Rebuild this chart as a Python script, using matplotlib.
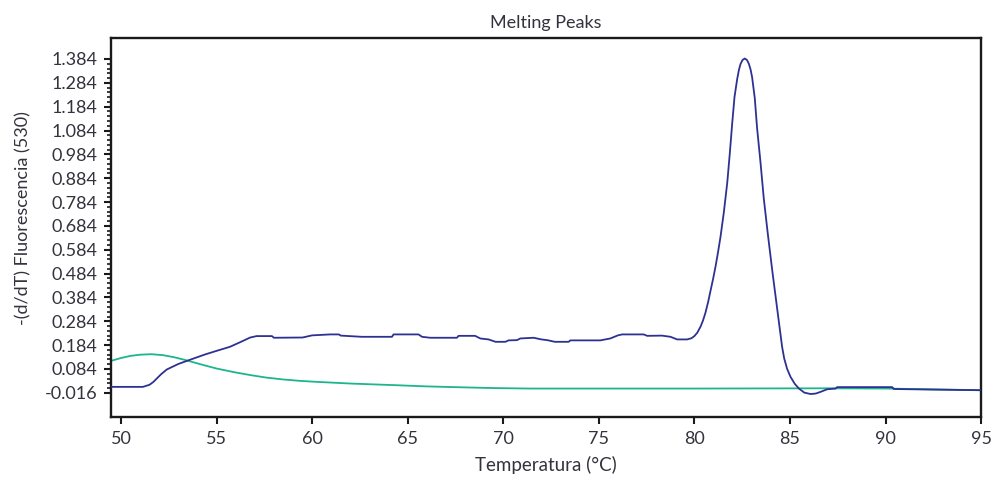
import numpy as np
import matplotlib
matplotlib.use('Agg')
import matplotlib.pyplot as plt
import matplotlib.ticker as ticker

# melting curve readings (temperature in C, -(d/dT) fluorescence)
blue_t = [49.48, 51.15, 51.5, 51.7, 52.1, 52.4, 53.0, 53.8, 54.4, 55.0, 55.7, 56.2, 56.76, 57.1,
          57.9, 58.0, 59.5, 60.0, 60.95, 61.4, 61.5, 62.6, 64.18, 64.26, 65.57, 65.75, 66.18,
          67.58, 67.66, 68.53, 68.8, 69.23, 69.6, 70.11, 70.28, 70.72, 70.89, 71.59, 72.0, 72.3,
          72.7, 73.42, 73.51, 75.08, 75.6, 76.0, 76.22, 77.35, 77.53, 78.3, 78.75, 79.1, 79.62,
          79.85, 80.0, 80.15, 80.32, 80.45, 80.58, 80.72, 80.85, 80.98, 81.11, 81.24, 81.37, 81.54,
          81.72, 81.85, 81.98, 82.10, 82.24, 82.33, 82.41, 82.52, 82.64, 82.75, 82.85, 82.94, 83.02,
          83.16, 83.28, 83.46, 83.63, 83.84, 84.07, 84.33, 84.59, 84.7, 84.85, 85.03, 85.25, 85.47,
          85.75, 86.08, 86.35, 86.6, 86.95, 87.39, 87.47, 90.35, 90.44, 95.0]
blue_v = [0.009, 0.009, 0.018, 0.030, 0.062, 0.082, 0.105, 0.128, 0.145, 0.160, 0.177, 0.195, 0.216, 0.222,
          0.222, 0.215, 0.216, 0.225, 0.229, 0.229, 0.224, 0.219, 0.219, 0.229, 0.229, 0.219, 0.215,
          0.215, 0.223, 0.223, 0.212, 0.208, 0.198, 0.198, 0.204, 0.205, 0.212, 0.215, 0.208, 0.205,
          0.198, 0.198, 0.204, 0.204, 0.212, 0.225, 0.229, 0.229, 0.223, 0.224, 0.219, 0.208, 0.208,
          0.213, 0.222, 0.236, 0.261, 0.287, 0.320, 0.365, 0.414, 0.462, 0.515, 0.575, 0.640, 0.740,
          0.865, 0.985, 1.115, 1.225, 1.300, 1.338, 1.362, 1.380, 1.386, 1.380, 1.364, 1.340, 1.308,
          1.220, 1.095, 0.950, 0.800, 0.652, 0.500, 0.338, 0.177, 0.128, 0.085, 0.051, 0.022, 0.002,
          -0.015, -0.021, -0.019, -0.012, -0.001, 0.002, 0.008, 0.008, 0.000, -0.005]

green_t = [49.48, 50.0, 50.5, 51.0, 51.6, 52.2, 52.8, 53.4, 54.2, 55.0, 55.9, 56.8, 57.6, 58.5,
           59.4, 60.25, 62.0, 64.4, 66.0, 67.9, 69.5, 71.4, 80.0, 87.0, 90.0, 95.0]
green_v = [0.118, 0.130, 0.139, 0.144, 0.146, 0.142, 0.133, 0.121, 0.103, 0.086, 0.071, 0.058, 0.048, 0.040,
           0.034, 0.030, 0.023, 0.016, 0.011, 0.007, 0.004, 0.002, 0.002, 0.003, 0.002, -0.005]

x_ticks = [50, 55, 60, 65, 70, 75, 80, 85, 90, 95]
y_ticks = [-0.016, 0.084, 0.184, 0.284, 0.384, 0.484, 0.584, 0.684, 0.784, 0.884,
           0.984, 1.084, 1.184, 1.284, 1.384]

plt.rcParams['font.family'] = ['Lato', 'DejaVu Sans']
text_col = '#33333d'

fig = plt.figure(figsize=(9.93, 4.83), dpi=100)
ax = fig.add_axes([0.1118, 0.1373, 0.8762, 0.784])

ax.plot(green_t, green_v, color='#1db58b', lw=1.3, zorder=2)
ax.plot(blue_t, blue_v, color='#2e3192', lw=1.3, zorder=3)

ax.set_xlim(49.48, 95.0)
ax.set_ylim(-0.116, 1.472)

ax.set_xticks(x_ticks)
ax.set_xticklabels([str(v) for v in x_ticks])
ax.set_yticks(y_ticks)
ax.set_yticklabels([f'{v:.3f}' for v in y_ticks])
ax.yaxis.set_minor_locator(ticker.FixedLocator(np.arange(-0.016, 1.39, 0.02)))

for s in ax.spines.values():
    s.set_linewidth(1.7)
    s.set_color('#1a1a1a')

ax.tick_params(axis='both', which='major', length=5, width=1.5, color='#1a1a1a',
               labelsize=13, labelcolor=text_col, pad=5)
ax.tick_params(axis='y', which='minor', length=3, width=1.2, color='#1a1a1a')

ax.set_title('Melting Peaks', fontsize=13, color=text_col, pad=7)
ax.set_xlabel('Temperatura (°C)', fontsize=13.5, color=text_col, labelpad=7)
ax.set_ylabel('-(d/dT) Fluorescencia (530)', fontsize=13, color=text_col)
ax.yaxis.set_label_coords(-0.091, 0.525)

fig.savefig('out.png', dpi=100)
